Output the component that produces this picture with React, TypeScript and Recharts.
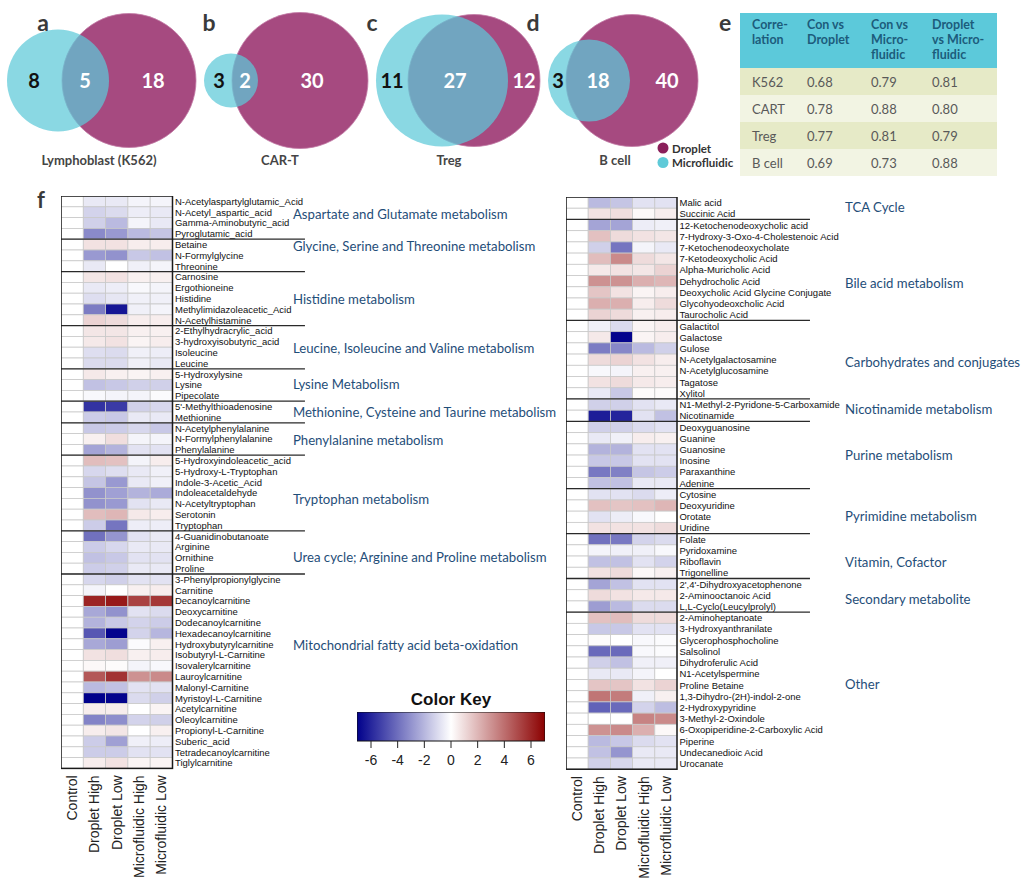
import React from 'react';
import { ScatterChart, Scatter, XAxis, YAxis, ReferenceArea } from 'recharts';

const CAL = 'Lato, "Open Sans", sans-serif';
const ARIAL = '"Liberation Sans", Arial, sans-serif';

// ---------- Venn (a-d) ----------
const vennLetters = ['a', 'b', 'c', 'd'];
const vennTitles = ['Lymphoblast (K562)', 'CAR-T', 'Treg', 'B cell'];
const microOnly = [8, 3, 11, 3];
const shared = [5, 2, 27, 18];
const dropletOnly = [18, 30, 12, 40];
// layout of the Venn diagrams (pixel-like units of the Venn chart)
const vennLetterX = [43, 209, 372, 533];
const vennTitleX = [99, 280, 449, 615];
const dropletCx = [129, 300, 474, 632];
const dropletR = [67, 68, 66, 66];
const microCx = [58, 231, 442, 589];
const microR = [51, 27, 66, 41];
const microOnlyX = [34, 219, 392, 558];
const sharedX = [85, 245, 455, 598];
const dropletOnlyX = [153, 312, 524, 667];
const legendLabels = ['Droplet', 'Microfluidic'];
const legendColors = ['#8a1f5a', '#5fcad8'];

// ---------- Table (e) ----------
const tableHeaders = [['Corre-', 'lation'], ['Con vs', 'Droplet'], ['Con vs', 'Micro-', 'fluidic'], ['Droplet', 'vs Micro-', 'fluidic']];
const tableCellTypes = ['K562', 'CART', 'Treg', 'B cell'];
const conVsDroplet = [0.68, 0.78, 0.77, 0.69];
const conVsMicro = [0.79, 0.88, 0.81, 0.73];
const dropletVsMicro = [0.81, 0.80, 0.79, 0.88];

// ---------- Heatmap (f) ----------
const colNames = ['Control', 'Droplet High', 'Droplet Low', 'Microfluidic High', 'Microfluidic Low'];

const leftPathways = [
  'Aspartate and Glutamate metabolism', 'Glycine, Serine and Threonine metabolism', 'Histidine metabolism',
  'Leucine, Isoleucine and Valine metabolism', 'Lysine Metabolism', 'Methionine, Cysteine and Taurine metabolism',
  'Phenylalanine metabolism', 'Tryptophan metabolism', 'Urea cycle; Arginine and Proline metabolism',
  'Mitochondrial fatty acid beta-oxidation',
];
const leftPathwaySizes = [4, 3, 5, 4, 3, 2, 3, 7, 4, 18];
const leftPathwayLabelRow = [1.17, 4.13, 9.04, 13.57, 16.9, 19.5, 22.1, 27.6, 32.9, 41.1];

const leftMetabolites = [
  'N-Acetylaspartylglutamic_Acid', 'N-Acetyl_aspartic_acid', 'Gamma-Aminobutyric_acid', 'Pyroglutamic_acid',
  'Betaine', 'N-Formylglycine', 'Threonine',
  'Carnosine', 'Ergothioneine', 'Histidine', 'Methylimidazoleacetic_Acid', 'N-Acetylhistamine',
  '2-Ethylhydracrylic_acid', '3-hydroxyisobutyric_acid', 'Isoleucine', 'Leucine',
  '5-Hydroxylysine', 'Lysine', 'Pipecolate',
  "5'-Methylthioadenosine", 'Methionine',
  'N-Acetylphenylalanine', 'N-Formylphenylalanine', 'Phenylalanine',
  '5-Hydroxyindoleacetic_acid', '5-Hydroxy-L-Tryptophan', 'Indole-3-Acetic_Acid', 'Indoleacetaldehyde', 'N-Acetyltryptophan', 'Serotonin', 'Tryptophan',
  '4-Guanidinobutanoate', 'Arginine', 'Ornithine', 'Proline',
  '3-Phenylpropionylglycine', 'Carnitine', 'Decanoylcarnitine', 'Deoxycarnitine', 'Dodecanoylcarnitine', 'Hexadecanoylcarnitine',
  'Hydroxybutyrylcarnitine', 'Isobutyryl-L-Carnitine', 'Isovalerylcarnitine', 'Lauroylcarnitine', 'Malonyl-Carnitine',
  'Myristoyl-L-Carnitine', 'Acetylcarnitine', 'Oleoylcarnitine', 'Propionyl-L-Carnitine', 'Suberic_acid',
  'Tetradecanoylcarnitine', 'Tiglylcarnitine',
];
const leftControl = [
  0, 0, 0, 0, 0, 0, 0, 0, 0, 0, 0, 0, 0, 0, 0, 0, 0, 0, 0, 0, 0, 0, 0, 0, 0, 0, 0,
  0, 0, 0, 0, 0, 0, 0, 0, 0, 0, 0, 0, 0, 0, 0, 0, 0, 0, 0, 0, 0, 0, 0, 0, 0, 0,
];
const leftDropletHigh = [
  -0.6, -1.2, -1.3, -3.2, 0.8, -2.8, -0.6, 0.7, -0.6, -0.9, -3.6, 1.2, 0.7, 0.6, -0.9, -1.0,
  0.6, -1.7, -0.2, -5.6, -1.4, -1.5, 0.4, -2.5, 1.8, -1.1, -1.6, -3.0, -3.0, 1.8, -1.4,
  -3.9, -1.4, -1.7, -1.4, -1.1, -0.3, 6.0, -2.4, -2.1, -4.6, -2.4, 0.8, 0.2, 4.6, -1.9, -7.0, 0.5, -3.4, 0.5, -1.4, -1.4, 0.5,
];
const leftDropletLow = [
  -0.6, -1.0, -1.9, -2.8, 0.8, -3.0, 0.0, 0.8, -0.5, -0.7, -6.4, 1.0, 0.7, 0.8, -1.0, -1.0,
  0.4, -1.5, -0.3, -5.4, -1.5, -1.4, 0.9, -2.1, 1.7, -0.9, -2.8, -2.6, -2.8, 2.0, -3.8,
  -2.9, -1.1, -1.5, -1.3, -1.3, 0.0, 6.3, -3.0, -1.5, -6.9, -2.7, 0.9, 0.1, 5.6, -1.7, -6.9, 0.5, -3.1, 0.7, -2.6, -1.4, 0.8,
];
const leftMicroHigh = [
  -0.3, -0.5, -0.3, -1.9, 0.5, -1.5, -0.4, 0.4, -0.2, -0.4, -0.4, 0.5, 0.4, 0.3, -0.4, -0.4,
  0.3, -1.3, -0.3, -1.3, -0.6, -1.1, -0.3, -0.8, -0.3, -0.6, -0.6, -2.1, -0.8, 0.6, -0.5,
  -0.8, -0.6, -0.8, -0.6, -0.8, 0.4, 5.2, -0.8, -1.2, -1.2, -0.1, 0.4, -0.3, 3.0, -0.8, -1.0, 0.0, -1.2, 0.0, -0.4, -0.8, 0.3,
];
const leftMicroLow = [
  -0.3, -0.6, -0.6, -1.6, 0.5, -1.7, -0.3, 0.4, -0.3, -0.4, -0.3, 0.5, 0.4, 0.5, -0.5, -0.6,
  0.4, -1.3, -0.1, -1.1, -0.6, -1.5, -0.3, -0.8, 0.5, -0.4, -0.4, -2.3, -0.6, 0.5, -0.5,
  -0.6, -0.6, -0.8, -0.6, -0.8, 0.5, 5.5, -1.0, -1.4, -2.0, 0.4, 0.5, -0.2, 3.2, -0.8, -1.3, 0.3, -1.3, 0.4, -0.5, -0.8, 0.3,
];

const rightPathways = [
  'TCA Cycle', 'Bile acid metabolism', 'Carbohydrates and conjugates', 'Nicotinamide metabolism',
  'Purine metabolism', 'Pyrimidine metabolism', 'Vitamin, Cofactor', 'Secondary metabolite', 'Other',
];
const rightPathwaySizes = [2, 9, 7, 2, 6, 4, 4, 3, 14];
const rightPathwayLabelRow = [0.39, 7.18, 14.23, 18.43, 22.5, 27.9, 32.0, 35.3, 42.9];

const rightMetabolites = [
  'Malic acid', 'Succinic Acid',
  '12-Ketochenodeoxycholic acid', '7-Hydroxy-3-Oxo-4-Cholestenoic Acid', '7-Ketochenodeoxycholate', '7-Ketodeoxycholic Acid',
  'Alpha-Muricholic Acid', 'Dehydrocholic Acid', 'Deoxycholic Acid Glycine Conjugate', 'Glycohyodeoxcholic Acid', 'Taurocholic Acid',
  'Galactitol', 'Galactose', 'Gulose', 'N-Acetylgalactosamine', 'N-Acetylglucosamine', 'Tagatose', 'Xylitol',
  'N1-Methyl-2-Pyridone-5-Carboxamide', 'Nicotinamide',
  'Deoxyguanosine', 'Guanine', 'Guanosine', 'Inosine', 'Paraxanthine', 'Adenine',
  'Cytosine', 'Deoxyuridine', 'Orotate', 'Uridine',
  'Folate', 'Pyridoxamine', 'Riboflavin', 'Trigonelline',
  "2',4'-Dihydroxyacetophenone", '2-Aminooctanoic Acid', 'L,L-Cyclo(Leucylprolyl)',
  '2-Aminoheptanoate', '3-Hydroxyanthranilate', 'Glycerophosphocholine', 'Salsolinol', 'Dihydroferulic Acid', 'N1-Acetylspermine',
  'Proline Betaine', '1,3-Dihydro-(2H)-indol-2-one', '2-Hydroxypyridine', '3-Methyl-2-Oxindole', '6-Oxopiperidine-2-Carboxylic Acid',
  'Piperine', 'Undecanedioic Acid', 'Urocanate',
];
const rightControl = [
  0, 0, 0, 0, 0, 0, 0, 0, 0, 0, 0, 0, 0, 0, 0, 0, 0, 0, 0, 0, 0, 0, 0, 0, 0, 0,
  0, 0, 0, 0, 0, 0, 0, 0, 0, 0, 0, 0, 0, 0, 0, 0, 0, 0, 0, 0, 0, 0, 0, 0, 0,
];
const rightDropletHigh = [
  -1.9, 0.8, -2.5, 1.7, -1.3, 1.8, 0.6, 3.0, 1.6, 2.2, 1.2, -0.4, 0.6, -3.6, 1.0, -0.2, 0.8, -0.6,
  -1.3, -6.2, -1.3, -0.6, -2.1, -1.5, -3.7, -1.7, -0.8, 1.7, -0.8, 0.8, -3.9, -0.3, -1.7, 0.8,
  -2.5, 1.0, -2.7, 1.7, -1.5, 0.1, -4.1, -1.3, -0.6, 1.6, 3.8, -4.3, 0.0, 3.0, -1.9, -1.7, -1.3,
];
const rightDropletLow = [
  -1.6, 0.9, -2.5, 1.0, -3.8, 3.2, 0.8, 3.0, 0.8, 2.2, 1.0, -1.0, -6.9, -3.3, 1.2, -0.3, 1.0, -1.5,
  -1.3, -6.0, -1.3, -0.4, -2.1, -1.5, -3.5, -1.7, -0.8, 1.6, -0.5, 0.8, -3.7, -0.4, -1.7, 1.0,
  -1.7, 0.8, -1.9, 1.8, -1.5, 0.0, -4.1, -1.7, -0.6, 1.6, 3.6, -4.1, 0.0, 3.2, -1.5, -2.9, -1.1,
];
const rightMicroHigh = [
  -0.8, 0.2, -0.5, 0.8, -0.3, 1.0, 0.7, 2.2, 0.3, 0.5, 0.4, 0.3, 0.3, -1.9, 0.8, 0.4, 0.6, 0.1,
  -0.8, -0.8, -1.0, 0.5, -0.8, -0.8, -1.6, -0.6, -1.0, 1.7, -0.2, 0.8, -1.2, -0.4, -0.8, 0.2,
  -0.8, 0.6, -1.0, 1.0, -0.8, -0.2, -0.2, -0.4, -0.3, 0.8, -0.4, -1.2, 3.4, 2.2, -1.0, -0.6, -0.6,
];
const rightMicroLow = [
  -0.8, 0.5, -0.4, 0.7, -0.6, 0.7, 1.2, 2.0, 0.5, 1.0, 0.5, 0.5, 0.5, -1.3, 0.5, 0.4, 0.5, 0.1,
  -0.6, -1.7, -0.8, 0.4, -0.8, -0.8, -1.4, -0.6, -0.5, 2.0, 0.0, 1.0, -1.0, -0.2, -1.2, 0.4,
  -0.8, 0.6, -1.0, 1.0, -0.8, -0.1, -0.1, -0.4, 0.0, 1.2, 0.4, -1.8, 3.2, 0.2, -0.8, -0.6, -0.6,
];

// ---------- Color key ----------
const keyTicks = [-6, -4, -2, 0, 2, 4, 6];
const keyMin = -7.05;
const keyMax = 7.05;

function heatColor(v: number) {
  const t = Math.max(-1, Math.min(1, v / 7));
  let r, g, b;
  if (t < 0) {
    const a = -t;
    r = 255 * (1 - a);
    g = 255 * (1 - a);
    b = 255 + (139 - 255) * a;
  } else {
    r = 255 + (139 - 255) * t;
    g = 255 * (1 - t);
    b = 255 * (1 - t);
  }
  return `rgb(${Math.round(r)},${Math.round(g)},${Math.round(b)})`;
}

function VennChart() {
  const droplet = dropletCx.map((x, i) => ({ x, y: 80.5, r: dropletR[i] }));
  const micro = microCx.map((x, i) => ({ x, y: 80.5, r: microR[i] }));
  const letters = vennLetters.map((l, i) => ({ x: vennLetterX[i], y: 22, label: l }));
  const titles = vennTitles.map((l, i) => ({ x: vennTitleX[i], y: 160, label: l }));
  const mOnly = microOnly.map((v, i) => ({ x: microOnlyX[i], y: 80, label: String(v) }));
  const sh = shared.map((v, i) => ({ x: sharedX[i], y: 80, label: String(v) }));
  const dOnly = dropletOnly.map((v, i) => ({ x: dropletOnlyX[i], y: 80, label: String(v) }));
  const legend = legendLabels.map((l, i) => ({ x: 663, y: 148 + i * 14.5, label: l, color: legendColors[i] }));
  const txt = (size: number, weight: any, fill: string, anchor = 'middle', family = CAL) => (p: any) => (
    <text x={p.cx} y={p.cy} textAnchor={anchor} dominantBaseline="central" fontSize={size} fontWeight={weight} fill={fill} fontFamily={family}>
      {p.payload.label}
    </text>
  );
  return (
    <ScatterChart width={740} height={180} margin={{ top: 0, right: 0, bottom: 0, left: 0 }}>
      <XAxis type="number" dataKey="x" domain={[0, 740]} hide />
      <YAxis type="number" dataKey="y" domain={[0, 180]} reversed hide />
      <Scatter data={droplet} isAnimationActive={false}
        shape={(p: any) => <circle cx={p.cx} cy={p.cy} r={p.payload.r} fill="#a64a80" stroke="#c27aa4" strokeWidth={0.8} />} />
      <Scatter data={micro} isAnimationActive={false}
        shape={(p: any) => <circle cx={p.cx} cy={p.cy} r={p.payload.r} fill="#5dc9d8" fillOpacity={0.72} />} />
      <Scatter data={letters} isAnimationActive={false} shape={txt(23, 700, '#3a3a3a')} />
      <Scatter data={titles} isAnimationActive={false} shape={txt(13, 700, '#454545')} />
      <Scatter data={mOnly} isAnimationActive={false} shape={txt(20, 700, '#111')} />
      <Scatter data={sh} isAnimationActive={false} shape={txt(20, 700, '#ffffff')} />
      <Scatter data={dOnly} isAnimationActive={false} shape={txt(20, 700, '#ffffff')} />
      <Scatter data={legend} isAnimationActive={false}
        shape={(p: any) => (
          <g>
            <circle cx={p.cx} cy={p.cy} r={5.5} fill={p.payload.color} />
            <text x={p.cx + 9} y={p.cy} dominantBaseline="central" fontSize={11.5} fontWeight={700} fill="#333" fontFamily={CAL}>{p.payload.label}</text>
          </g>
        )} />
    </ScatterChart>
  );
}

function CorrTable() {
  const colW = [60, 64, 61, 72];
  const padL = [12, 7, 7, 7];
  const rows = tableCellTypes.map((c, i) => [c, conVsDroplet[i].toFixed(2), conVsMicro[i].toFixed(2), dropletVsMicro[i].toFixed(2)]);
  return (
    <div style={{ position: 'absolute', left: 740, top: 13, width: 257, fontFamily: CAL }}>
      <div style={{ display: 'flex', height: 55, background: '#5cc9da' }}>
        {tableHeaders.map((h, j) => (
          <div key={j} style={{ width: colW[j], paddingLeft: padL[j], boxSizing: 'border-box', paddingTop: 4, color: '#1c5c7c', fontWeight: 700, fontSize: 12.5, lineHeight: '15px' }}>
            {h.map((line, k) => <div key={k}>{line}</div>)}
          </div>
        ))}
      </div>
      {rows.map((r, i) => (
        <div key={i} style={{ display: 'flex', height: 27, alignItems: 'center', background: i % 2 === 0 ? '#e6eac7' : '#f2f4e3' }}>
          {r.map((c, j) => (
            <div key={j} style={{ width: colW[j], paddingLeft: padL[j], boxSizing: 'border-box', color: '#595959', fontSize: 13 }}>{c}</div>
          ))}
        </div>
      ))}
    </div>
  );
}

type HeatProps = {
  left: number; top: number; colW: number; rowH: number; xMax: number; labelX: number; sepEnd: number;
  names: string[]; columns: number[][]; sizes: number[]; pathways: string[]; labelRows: number[];
};

function Heatmap({ left, top, colW, rowH, xMax, labelX, sepEnd, names, columns, sizes, pathways, labelRows }: HeatProps) {
  const n = names.length;
  const plotW = colW * (xMax + 0.5);
  const plotH = rowH * n;
  const axisH = 118;
  const cells: any[] = [];
  columns.forEach((col, j) => col.forEach((v, i) => cells.push({ x: j, y: i, v })));
  const rowLabels = names.map((name, i) => ({ x: 4.5, y: i, label: name }));
  const groupLabels = pathways.map((p, k) => ({ x: labelX, y: labelRows[k], label: p }));
  const seps: any[] = [];
  let acc = 0;
  sizes.slice(0, -1).forEach((s) => { acc += s; seps.push({ x: -0.5, y: acc - 0.5 }); });
  const frame = [{ x: -0.5, y: -0.5 }];
  return (
    <div style={{ position: 'absolute', left, top }}>
      <ScatterChart width={plotW} height={plotH + axisH} margin={{ top: 0, right: 0, bottom: 0, left: 0 }}>
        <XAxis type="number" dataKey="x" domain={[-0.5, xMax]} ticks={[0, 1, 2, 3, 4]} interval={0}
          axisLine={false} tickLine={false} tickSize={0} tickMargin={7} height={axisH}
          tick={(p: any) => (
            <text transform={`translate(${p.x},${p.y}) rotate(-90)`} textAnchor="end" dominantBaseline="central"
              fontSize={14} fontFamily={ARIAL} fill="#222">{colNames[p.payload.value]}</text>
          )} />
        <YAxis type="number" dataKey="y" domain={[-0.5, n - 0.5]} reversed hide />
        <Scatter data={cells} isAnimationActive={false}
          shape={(p: any) => (
            <rect x={p.cx - colW / 2} y={p.cy - rowH / 2} width={colW} height={rowH}
              fill={heatColor(p.payload.v)} stroke="#c9c9c9" strokeWidth={0.8} />
          )} />
        <Scatter data={seps} isAnimationActive={false}
          shape={(p: any) => <line x1={p.cx} x2={p.cx + (sepEnd + 0.5) * colW} y1={p.cy} y2={p.cy} stroke="#2a2a2a" strokeWidth={1.3} />} />
        <Scatter data={frame} isAnimationActive={false}
          shape={(p: any) => <rect x={p.cx} y={p.cy} width={5 * colW} height={plotH} fill="none" stroke="#1a1a1a" strokeWidth={1.5} />} />
        <Scatter data={rowLabels} isAnimationActive={false}
          shape={(p: any) => (
            <text x={p.cx + 2.5} y={p.cy} dominantBaseline="central" fontSize={9.5} fontFamily={ARIAL} fill="#111">{p.payload.label}</text>
          )} />
        <Scatter data={groupLabels} isAnimationActive={false}
          shape={(p: any) => (
            <text x={p.cx} y={p.cy} dominantBaseline="central" fontSize={13.2} fontFamily={CAL} fill="#1f4e79">{p.payload.label}</text>
          )} />
      </ScatterChart>
    </div>
  );
}

function ColorKey() {
  const tickPts = keyTicks.map((t) => ({ x: t, y: 0 }));
  return (
    <div style={{ position: 'absolute', left: 357, top: 687 }}>
      <div style={{ width: 188, textAlign: 'center', fontFamily: ARIAL, fontWeight: 700, fontSize: 17, color: '#111', height: 25, lineHeight: '25px' }}>Color Key</div>
      <ScatterChart width={188} height={62} margin={{ top: 0, right: 0, bottom: 0, left: 0 }}>
        <defs>
          <linearGradient id="ckGrad" x1="0" x2="1" y1="0" y2="0">
            <stop offset="0%" stopColor="#00008b" />
            <stop offset="50%" stopColor="#ffffff" />
            <stop offset="100%" stopColor="#8b0000" />
          </linearGradient>
        </defs>
        <XAxis type="number" dataKey="x" domain={[keyMin, keyMax]} ticks={keyTicks} interval={0}
          axisLine={false} tickSize={7} tickMargin={7} height={33}
          tickLine={{ stroke: '#222' }} tick={{ fontSize: 14, fontFamily: ARIAL, fill: '#222' }} />
        <YAxis type="number" dataKey="y" domain={[0, 1]} hide />
        <ReferenceArea x1={keyMin} x2={keyMax} y1={0} y2={1} fill="url(#ckGrad)" fillOpacity={1} stroke="#111" strokeWidth={1} />
        <Scatter data={tickPts} isAnimationActive={false} shape={() => <g />} />
      </ScatterChart>
    </div>
  );
}

export default function App() {
  return (
    <div style={{ position: 'absolute', left: 0, top: 0, width: 1023, height: 895, overflow: 'hidden', background: '#fff' }}>
      <div style={{ position: 'absolute', left: 0, top: 0 }}>
        <VennChart />
      </div>
      <div style={{ position: 'absolute', left: 719, top: 8, fontFamily: CAL, fontWeight: 700, fontSize: 23, color: '#3a3a3a' }}>e</div>
      <CorrTable />
      <div style={{ position: 'absolute', left: 37, top: 186, fontFamily: CAL, fontWeight: 700, fontSize: 22, color: '#3a3a3a' }}>f</div>
      <Heatmap left={61} top={196} colW={22.3} rowH={10.8} xMax={22.1} labelX={9.9} sepEnd={10.44}
        names={leftMetabolites} columns={[leftControl, leftDropletHigh, leftDropletLow, leftMicroHigh, leftMicroLow]}
        sizes={leftPathwaySizes} pathways={leftPathways} labelRows={leftPathwayLabelRow} />
      <Heatmap left={566} top={197} colW={22.2} rowH={11.22} xMax={20.0} labelX={12.07} sepEnd={10.49}
        names={rightMetabolites} columns={[rightControl, rightDropletHigh, rightDropletLow, rightMicroHigh, rightMicroLow]}
        sizes={rightPathwaySizes} pathways={rightPathways} labelRows={rightPathwayLabelRow} />
      <ColorKey />
    </div>
  );
}
